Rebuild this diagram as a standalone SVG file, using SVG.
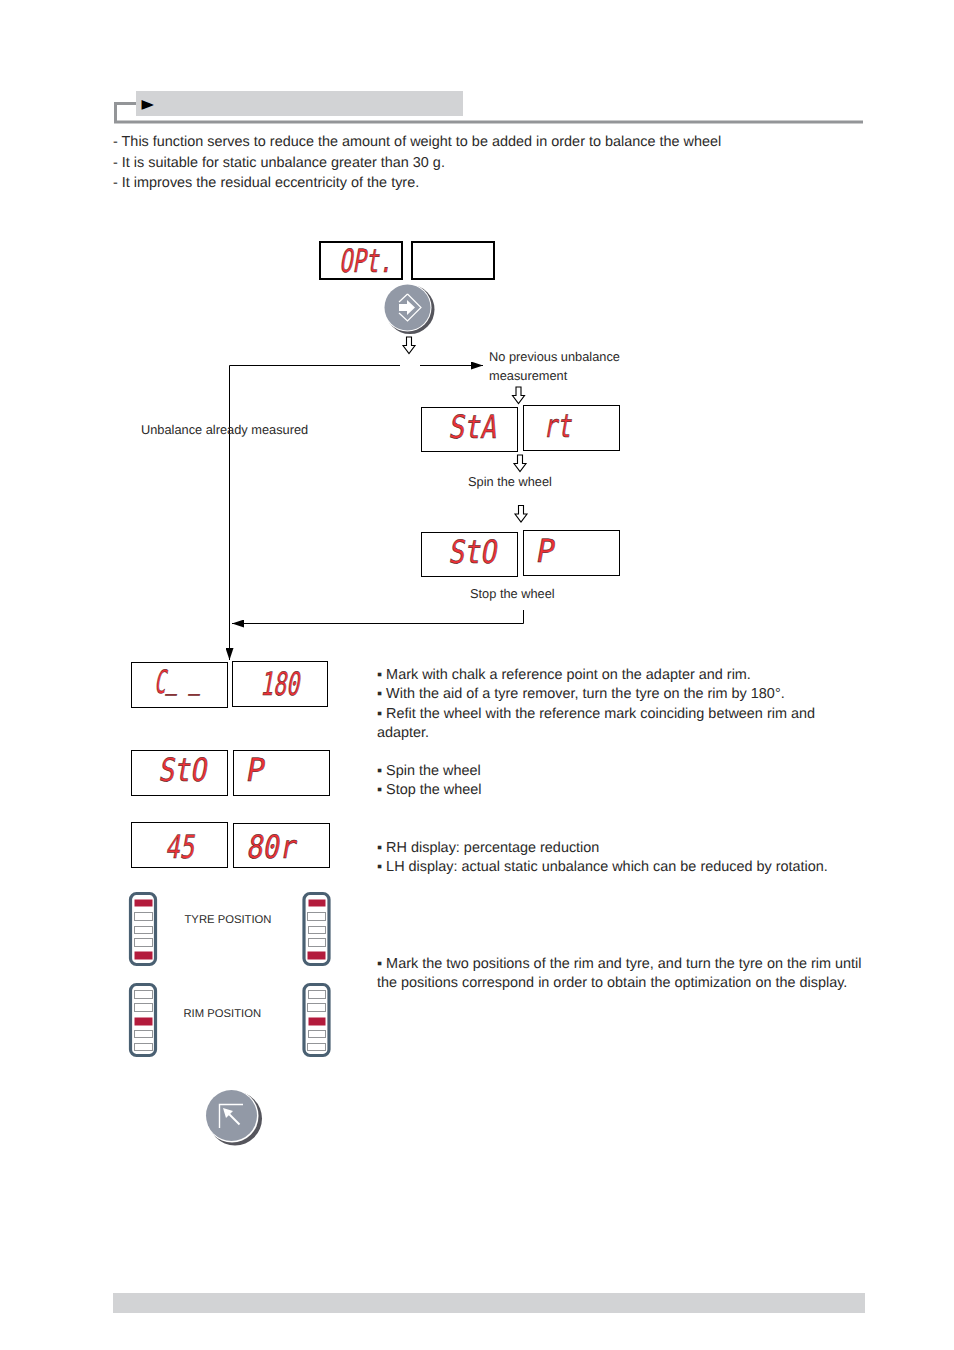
<svg xmlns="http://www.w3.org/2000/svg" width="954" height="1350" viewBox="0 0 954 1350">
<style>
text{font-family:"Liberation Sans",Arial,sans-serif;fill:#2b2a29;text-rendering:geometricPrecision}
.b{font-size:14.43px}.m{font-size:12.8px}.s{font-size:11.25px}
.box{fill:#fff;stroke:#000;stroke-width:1}
.box2{fill:#fff;stroke:#000;stroke-width:2}
.seg{font-family:"DejaVu Sans Mono","Liberation Mono",monospace;font-size:32px;fill:#ee3338;stroke:#3a1416;stroke-width:.5}
.c{fill:none;stroke:#000;stroke-width:1}
.ha{fill:#fff;stroke:#000;stroke-width:1.1}
.led{fill:#fff;stroke:#4a6072;stroke-width:3.2}
.r{fill:#b31b3c}.w{fill:#fff;stroke:#939598;stroke-width:1}
.btn{fill:#9299a6}.sh{fill:#55555c}
</style>
<defs>
<marker id="ah" markerWidth="12" markerHeight="8" refX="12" refY="4" orient="auto" markerUnits="userSpaceOnUse"><path d="M0,0L12,4L0,8Z" fill="#000"/></marker>
<path id="hollow" class="ha" d="M-2.5,-8.5H2.5V0H6L0,8L-6,0H-2.5Z"/>
<g id="bar"><rect class="led" x="1.5" y="1.5" width="25" height="71" rx="6"/></g>
</defs>

<g id="header">
<rect x="136" y="91" width="327" height="25" fill="#d2d3d5"/>
<path d="M136,103.5H115.5V122H863" fill="none" stroke="#939598" stroke-width="3"/>
<text transform="translate(141.5,109.5) scale(1.15,1.4)" style="font-family:'DejaVu Sans',sans-serif;font-size:14px;fill:#000">►</text>
</g>
<g id="intro">
<text class="b" x="113" y="146">- This function serves to reduce the amount of weight to be added in order to balance the wheel</text>
<text class="b" x="113" y="167">- It is suitable for static unbalance greater than 30 g.</text>
<text class="b" x="113" y="187">- It improves the residual eccentricity of the tyre.</text>
</g>

<g id="connectors">
<path class="c" d="M400,365.5H229.5V660" marker-end="url(#ah)"/>
<path class="c" d="M420,365.5H483" marker-end="url(#ah)"/>
<path class="c" d="M523.5,610V623.5H232" marker-end="url(#ah)"/>
<use href="#hollow" x="409" y="345.5"/>
<use href="#hollow" x="518.5" y="395.5"/>
<use href="#hollow" x="520" y="463.5"/>
<use href="#hollow" x="521" y="514"/>
</g>

<g id="d-opt"><rect class="box2" x="320" y="242" width="82" height="37"/><text class="seg" transform="translate(339,272) skewX(-10)" textLength="53" lengthAdjust="spacingAndGlyphs">OPt.</text></g>
<g id="d-blank"><rect class="box2" x="412" y="242" width="82" height="37"/></g>
<g id="btn-enter">
<circle class="sh" cx="410" cy="309.5" r="24.5"/><circle cx="407.5" cy="307.5" r="24" fill="#fff"/><circle class="btn" cx="407.5" cy="307.5" r="23"/>
<path d="M407.5,294L421,307.5L407.5,321L399,313M407.5,294L399,302" fill="none" stroke="#fff" stroke-width="1.2"/>
<path d="M399,304H407V300L415,307.5L407,315V311H399Z" fill="#fff"/>
</g>

<g id="lbl-noprev"><text class="m" x="489" y="361">No previous unbalance</text><text class="m" x="489" y="380">measurement</text></g>
<g id="lbl-already"><text class="m" x="141" y="434">Unbalance already measured</text></g>

<g id="d-sta"><rect class="box" x="421.5" y="407.5" width="96" height="44"/><text class="seg" transform="translate(448,438) skewX(-10)" textLength="48" lengthAdjust="spacingAndGlyphs">StA</text></g>
<g id="d-rt"><rect class="box" x="523.5" y="405.5" width="96" height="45"/><text class="seg" transform="translate(543,437) skewX(-10)" textLength="28" lengthAdjust="spacingAndGlyphs">rt</text></g>
<g id="lbl-spin"><text class="m" x="468" y="486">Spin the wheel</text></g>
<g id="d-sto"><rect class="box" x="421.5" y="532.5" width="96" height="44"/><text class="seg" transform="translate(448,563) skewX(-10)" textLength="48" lengthAdjust="spacingAndGlyphs">StO</text></g>
<g id="d-p"><rect class="box" x="523.5" y="530.5" width="96" height="45"/><text class="seg" transform="translate(535,562) skewX(-10)" textLength="18" lengthAdjust="spacingAndGlyphs">P</text></g>
<g id="lbl-stop"><text class="m" x="470" y="598">Stop the wheel</text></g>

<g id="d-c"><rect class="box" x="131.5" y="662.5" width="96" height="45"/><text class="seg" transform="translate(154,693) skewX(-10)" textLength="46" lengthAdjust="spacingAndGlyphs">C<tspan dy="-5">_ _</tspan></text></g>
<g id="d-180"><rect class="box" x="232.5" y="661.5" width="95" height="45"/><text class="seg" transform="translate(260,695) skewX(-10)" textLength="39" lengthAdjust="spacingAndGlyphs">180</text></g>
<g id="d-sto2"><rect class="box" x="131.5" y="750.5" width="96" height="45"/><text class="seg" transform="translate(158,781) skewX(-10)" textLength="48" lengthAdjust="spacingAndGlyphs">StO</text></g>
<g id="d-p2"><rect class="box" x="233.5" y="750.5" width="96" height="45"/><text class="seg" transform="translate(245,781) skewX(-10)" textLength="18" lengthAdjust="spacingAndGlyphs">P</text></g>
<g id="d-45"><rect class="box" x="131.5" y="822.5" width="96" height="45"/><text class="seg" transform="translate(165,858) skewX(-10)" textLength="29" lengthAdjust="spacingAndGlyphs">45</text></g>
<g id="d-80"><rect class="box" x="233.5" y="823.5" width="96" height="44"/><text class="seg" transform="translate(246,858) skewX(-10)" textLength="49" lengthAdjust="spacingAndGlyphs">80r</text></g>

<g id="notes">
<text class="b" x="377" y="679">▪ Mark with chalk a reference point on the adapter and rim.</text>
<text class="b" x="377" y="698">▪ With the aid of a tyre remover, turn the tyre on the rim by 180°.</text>
<text class="b" x="377" y="718">▪ Refit the wheel with the reference mark coinciding between rim and</text>
<text class="b" x="377" y="737">adapter.</text>
<text class="b" x="377" y="775">▪ Spin the wheel</text>
<text class="b" x="377" y="794">▪ Stop the wheel</text>
<text class="b" x="377" y="852">▪ RH display: percentage reduction</text>
<text class="b" x="377" y="871">▪ LH display: actual static unbalance which can be reduced by rotation.</text>
<text class="b" x="377" y="968">▪ Mark the two positions of the rim and tyre, and turn the tyre on the rim until</text>
<text class="b" x="377" y="987">the positions correspond in order to obtain the optimization on the display.</text>
</g>

<g id="tyre-left"><use href="#bar" x="129" y="892"/><rect class="r" x="134.5" y="899.5" width="18" height="7"/><rect class="w" x="134.5" y="912.5" width="18" height="8"/><rect class="w" x="134.5" y="926.5" width="18" height="7"/><rect class="w" x="134.5" y="938.5" width="18" height="8"/><rect class="r" x="134.5" y="951.5" width="18" height="8"/></g>
<g id="tyre-right"><use href="#bar" x="302.5" y="892"/><rect class="r" x="308.5" y="899.5" width="17" height="7"/><rect class="w" x="307.5" y="912.5" width="18" height="8"/><rect class="w" x="308.5" y="926.5" width="17" height="7"/><rect class="w" x="308.5" y="938.5" width="17" height="8"/><rect class="r" x="307.5" y="951.5" width="18" height="8"/></g>
<g id="lbl-tyre"><text class="s" x="184.5" y="923">TYRE POSITION</text></g>
<g id="rim-left"><use href="#bar" x="129" y="983"/><rect class="w" x="134.5" y="990.5" width="18" height="8"/><rect class="w" x="134.5" y="1003.5" width="18" height="8"/><rect class="r" x="134.5" y="1017.5" width="18" height="8"/><rect class="w" x="134.5" y="1030.5" width="18" height="7"/><rect class="w" x="134.5" y="1043.5" width="18" height="7"/></g>
<g id="rim-right"><use href="#bar" x="302.5" y="983"/><rect class="w" x="308.5" y="990.5" width="17" height="8"/><rect class="w" x="307.5" y="1003.5" width="18" height="8"/><rect class="r" x="308.5" y="1017.5" width="17" height="8"/><rect class="w" x="308.5" y="1030.5" width="17" height="7"/><rect class="w" x="307.5" y="1043.5" width="18" height="7"/></g>
<g id="lbl-rim"><text class="s" x="183.5" y="1017">RIM POSITION</text></g>

<g id="btn-exit">
<circle class="sh" cx="235" cy="1118.5" r="27"/><circle cx="232" cy="1116" r="26.5" fill="#fff"/><circle class="btn" cx="231.5" cy="1115.5" r="25.5"/>
<path d="M243,1104.5H219.5V1128" fill="none" stroke="#fff" stroke-width="1.4"/>
<path d="M239.5,1124.5L227,1112" stroke="#fff" stroke-width="2" fill="none"/><path d="M223,1108L233,1111L226,1118Z" fill="#fff"/>
</g>

<g id="footer"><rect x="113" y="1293" width="752" height="20" fill="#d2d3d5"/></g>
</svg>
